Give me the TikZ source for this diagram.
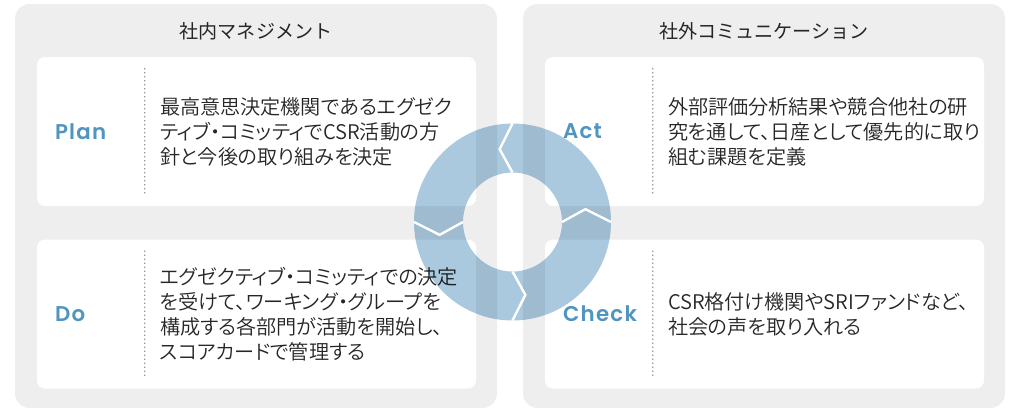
\documentclass[tikz,border=0pt]{standalone}
\usepackage{fontspec}
\setmainfont{Noto Sans CJK JP}
\newfontfamily\bodyfont{Noto Sans CJK JP DemiLight}[RawFeature=+palt]
\newfontfamily\stepfont{Poppins SemiBold}[LetterSpace=6]
\usetikzlibrary{calc,positioning}
\definecolor{panelgray}{RGB}{238,238,238}
\definecolor{ringblue}{RGB}{170,201,222}
\definecolor{stepblue}{RGB}{80,148,192}
\definecolor{txtgray}{RGB}{38,38,38}
\definecolor{dotgray}{RGB}{150,150,150}
\newcommand{\rOut}{98.5}
\newcommand{\rIn}{49.5}
\tikzset{panel/.style={fill=panelgray,rounded corners=11pt},
  card/.style={fill=white,rounded corners=6pt,inner sep=0pt,minimum width=329.25pt,minimum height=111.75pt},
  head/.style={text=txtgray,font=\fontsize{14.3}{18}\selectfont},
  steplabel/.style={inner sep=0pt,text=stepblue,font=\stepfont\fontsize{16}{18}\selectfont},
  steptext/.style={inner sep=0pt,align=left,text=txtgray,font=\bodyfont\fontsize{15.1}{18.75}\selectfont},
  sep/.style={dotgray,line width=1.3pt,line cap=round,dash pattern=on 0pt off 3pt},
  joint/.style={white,line width=1.8pt}}
\begin{document}
\begin{tikzpicture}[x=0.75pt,y=0.75pt]
\useasboundingbox (0,0) rectangle (1020,-411);
% two panels
\fill[panel] (15,-4) rectangle (497,-408);
\fill[panel] (523,-4) rectangle (1005,-408);
\node[head] (inhead) at (256,-31) {社内マネジメント};
\node[head] (outhead) at (764,-31) {社外コミュニケーション};
% cards
\node[card] (plan) at (256.5,-131.5) {};
\node[card] (do) at (256.5,-314) {};
\node[card] (act) at (764.5,-131.5) {};
\node[card] (check) at (764.5,-314) {};
\foreach \c in {plan,do,act,check}
  \draw[sep] ($(\c.north west)+(108,-12)$) -- ($(\c.south west)+(108,12)$);
\node[steplabel,right=13.5pt of plan.west] (planlbl) {Plan};
\node[steplabel,right=13.5pt of do.west] (dolbl) {Do};
\node[steplabel,right=13.5pt of act.west] (actlbl) {Act};
\node[steplabel,right=13.5pt of check.west] (checklbl) {Check};
\node[steptext,right=92.25pt of plan.west] (plantxt) {最高意思決定機関であるエグゼク\\ティブ・コミッティでCSR活動の方\\針と今後の取り組みを決定};
\node[steptext,right=92.25pt of do.west] (dotxt) {エグゼクティブ・コミッティでの決定\\を受けて、ワーキング・グループを\\構成する各部門が活動を開始し、\\スコアカードで管理する};
\node[steptext,right=92.25pt of act.west] (acttxt) {外部評価分析結果や競合他社の研\\究を通して、日産として優先的に取り\\組む課題を定義};
\node[steptext,right=92.25pt of check.west] (checktxt) {CSR格付け機関やSRIファンドなど、\\社会の声を取り入れる};
% cycle ring
\coordinate (c) at (512.5,-222);
\begin{scope}[blend mode=multiply]
\fill[ringblue,even odd rule] (c) circle[radius=\rOut] (c) circle[radius=\rIn];
\end{scope}
\foreach \a in {90,0,270,180}
  \draw[joint] ($(c)+(\a:\rIn)$) -- ($(c)+(\a+10:74)$) -- ($(c)+(\a:\rOut)$);
\end{tikzpicture}
\end{document}
